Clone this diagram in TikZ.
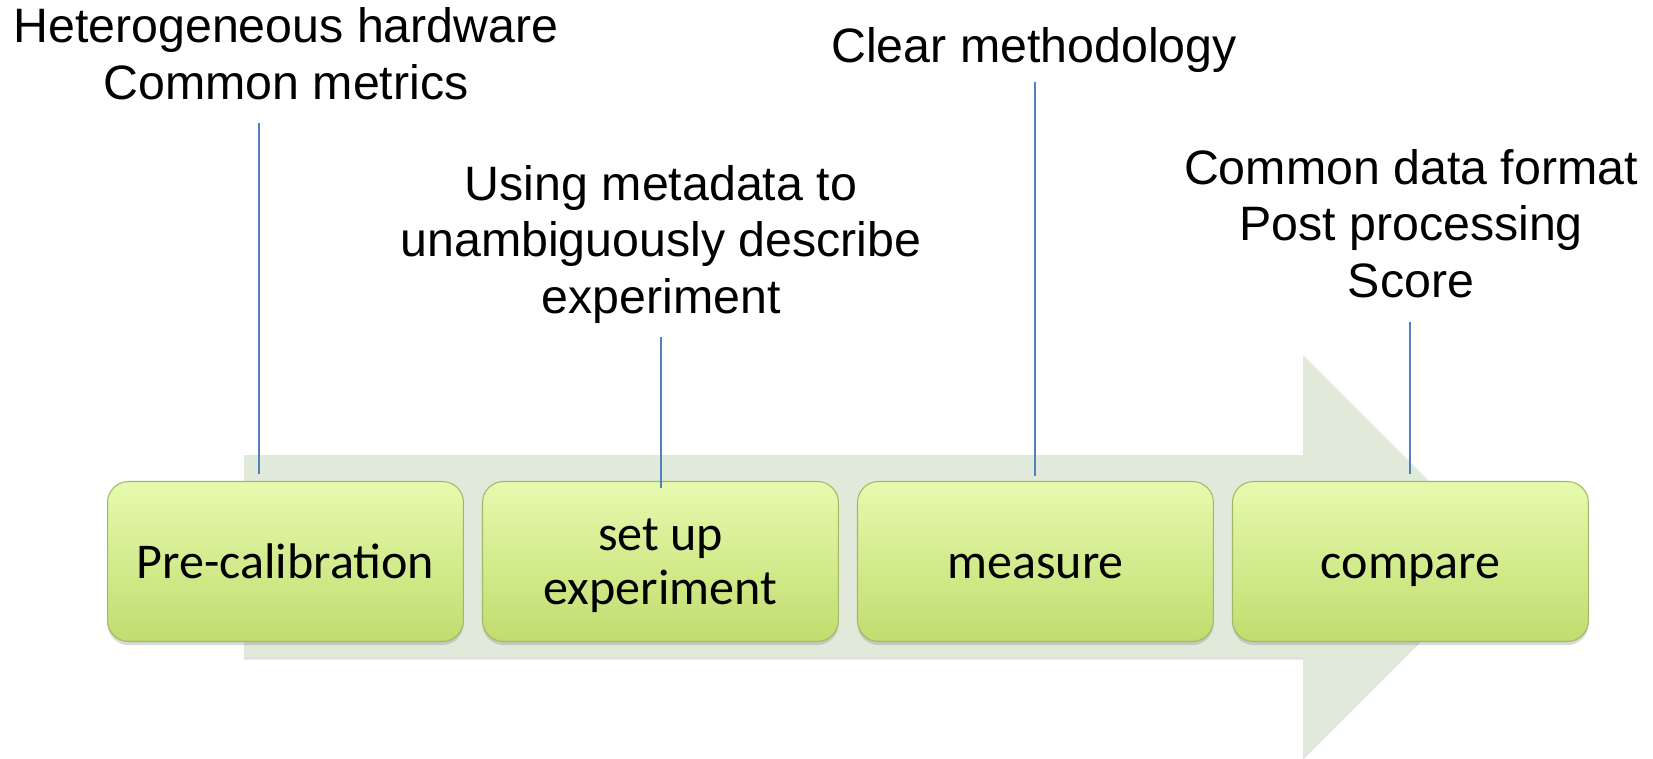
\documentclass[tikz,border=0pt]{standalone}
\usepackage{fontspec}
\setmainfont{Liberation Sans}
\newfontfamily\boxfont{Carlito}
\usetikzlibrary{positioning,shadows}
\definecolor{arrowfill}{HTML}{E1EADA}
\definecolor{stepedge}{HTML}{9FB964}
\definecolor{steptop}{HTML}{E6FAAE}
\definecolor{stepmid}{HTML}{D8F293}
\definecolor{stepbottom}{HTML}{C0DD6E}
\definecolor{leaderblue}{HTML}{4F81BD}
\tikzset{
	stepbox/.style={draw=stepedge, line width=0.6pt, rounded corners=0.42cm,
		top color=steptop, middle color=stepmid, bottom color=stepbottom,
		minimum width=7.12cm, minimum height=3.2cm, align=center,
		font=\boxfont\fontsize{28.5}{31}\selectfont,
		text depth=0pt, execute at begin node={\vphantom{Pl}},
		drop shadow={opacity=0.3, shadow xshift=0pt, shadow yshift=-2pt}},
	note/.style={align=center, inner sep=0pt, text depth=0pt, anchor=base,
		font=\fontsize{27.5}{32}\selectfont},
	leader/.style={leaderblue, line width=0.9pt, shorten <=0.48cm}
}

\begin{document}
\begin{tikzpicture}[x=0.02cm,y=-0.02cm]
	\useasboundingbox (0,0) rectangle (1653,758);
	% big background arrow
	\fill[arrowfill, drop shadow={opacity=0.25, shadow xshift=0pt, shadow yshift=-1.5pt}]
		(244,455) -- (1303,455) -- (1303,355) -- (1504,556) -- (1303,757)
		-- (1303,657) -- (244,657) -- cycle;
	% the four steps
	\node[stepbox] (pre) at (285.5,561.5) {Pre-calibration};
	\node[stepbox, right=0.36cm of pre] (setup) {set up\\experiment};
	\node[stepbox, right=0.36cm of setup] (measure) {measure};
	\node[stepbox, right=0.36cm of measure] (compare) {compare};
	% notes above (placed at the baseline of their last line)
	\node[note] (hw) at (286,99) {Heterogeneous hardware\\Common metrics};
	\node[note] (meta) at (661,313) {Using metadata to\\unambiguously describe\\experiment};
	\node[note] (method) at (1034,62) {Clear methodology};
	\node[note] (post) at (1411,297) {Common data format\\Post processing\\Score};
	% leader lines
	\coordinate (t1) at (259,474);
	\coordinate (t2) at (661,488);
	\coordinate (t3) at (1035,476);
	\coordinate (t4) at (1410,474);
	\draw[leader] (hw.south -| t1) -- (t1);
	\draw[leader] (meta.south -| t2) -- (t2);
	\draw[leader, shorten <=0.4cm] (method.south -| t3) -- (t3);
	\draw[leader, shorten <=0.5cm] (post.south -| t4) -- (t4);
\end{tikzpicture}
\end{document}
